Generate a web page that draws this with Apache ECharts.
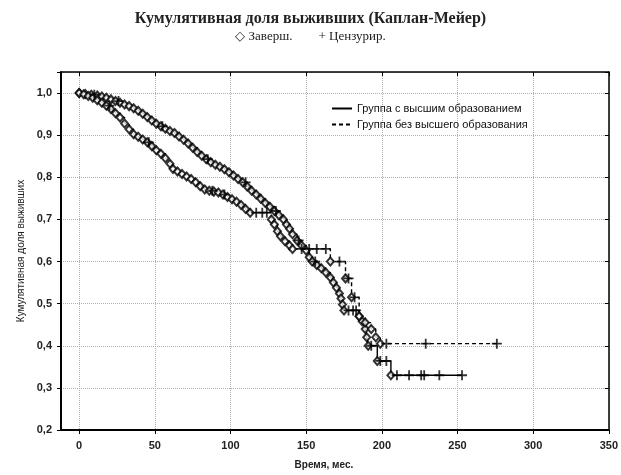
<!DOCTYPE html>
<html>
<head>
<meta charset="utf-8">
<script src="https://cdn.jsdelivr.net/npm/echarts@6/dist/echarts.min.js"></script>
<style>html,body{margin:0;padding:0;background:#fff}#c{width:621px;height:475px}</style>
</head>
<body>
<div id="c"></div>
<script>
// Group with higher education (solid line): event times and survival
const eventsA_t = [0,4,8,12,15,18,21,24,27,30,33,36,39,42,45,48,51,54,57,60,63,66,69,72,75,78,81,84,87,90,93,96,99,102,105,108,111,114,117,120,123,126,129,132,135,137,139,141,144,147,150,152,154,157,160,163,166,168,170,172,173,174,175,185,187,189,190,191,197,206];
const eventsA_s = [1.0,0.998,0.996,0.994,0.992,0.989,0.985,0.981,0.977,0.973,0.969,0.964,0.958,0.951,0.943,0.935,0.927,0.921,0.915,0.910,0.905,0.897,0.889,0.880,0.870,0.860,0.851,0.843,0.836,0.830,0.825,0.819,0.812,0.804,0.796,0.788,0.778,0.768,0.759,0.749,0.739,0.730,0.720,0.710,0.700,0.688,0.678,0.665,0.650,0.638,0.626,0.610,0.600,0.592,0.584,0.574,0.562,0.550,0.538,0.524,0.512,0.498,0.484,0.470,0.458,0.440,0.420,0.400,0.364,0.330];
const censoredA_t = [10,26,55,85,110,130,145,156,178,181,183,193,199,203,210,218,226,228,238,253];

// Group without higher education (dashed line)
const eventsB_t = [0,3,6,9,12,15,18,21,24,27,30,33,36,39,42,45,48,51,54,57,60,62,65,68,71,74,77,80,83,86,89,92,95,98,101,104,107,110,113,127,129,131,133,136,139,141,166,176,180,185,189,193,196,199];
const eventsB_s = [1.0,0.997,0.993,0.989,0.983,0.977,0.970,0.962,0.952,0.942,0.928,0.914,0.902,0.896,0.890,0.883,0.874,0.864,0.856,0.845,0.832,0.820,0.814,0.808,0.802,0.796,0.788,0.779,0.771,0.768,0.766,0.764,0.759,0.753,0.748,0.742,0.734,0.725,0.716,0.700,0.688,0.672,0.660,0.648,0.638,0.630,0.600,0.560,0.515,0.470,0.455,0.440,0.420,0.405];
const censoredB_t = [20,46,88,96,117,121,124,147,152,157,163,172,178,182,203,229,276];

const xTicks = [0,50,100,150,200,250,300,350];
const legendNames = ['Группа с высшим образованием','Группа без высшего образования'];
const titleText = 'Кумулятивная доля выживших (Каплан-Мейер)';
const subtitleText = '\u25C7 Заверш.        + Цензурир.';
const yAxisName = 'Кумулятивная доля выживших';
const xAxisName = 'Время, мес.';

function kmAt(ts, ss, t) {
  let v = ss[0];
  for (let i = 0; i < ts.length; i++) { if (ts[i] <= t) v = ss[i]; }
  return v;
}
function lineData(ts, ss, cts) {
  const pts = ts.map((t, i) => [t, ss[i]]);
  const last = Math.max(...cts);
  if (last > ts[ts.length - 1]) pts.push([last, ss[ss.length - 1]]);
  return pts;
}
function censorData(ts, ss, cts) { return cts.map(t => [t, kmAt(ts, ss, t)]); }

const plusPath = 'path://M4.1,0H5.9V4.1H10V5.9H5.9V10H4.1V5.9H0V4.1H4.1Z';
const sans = 'Liberation Sans';

const chart = echarts.init(document.getElementById('c'), null, {renderer: 'canvas'});
chart.setOption({
  animation: false,
  backgroundColor: '#fff',
  title: [
    {text: titleText, left: 'center', top: 6, textStyle: {fontFamily: 'Liberation Serif', fontSize: 16, fontWeight: 'bold', color: '#222'}},
    {text: subtitleText, left: 'center', top: 25, textStyle: {fontFamily: 'Liberation Serif', fontSize: 13, fontWeight: 'normal', color: '#222'}}
  ],
  legend: {
    data: legendNames, orient: 'vertical', left: 326, top: 98, itemGap: 5, itemWidth: 20, itemHeight: 8,
    itemStyle: {opacity: 0},
    textStyle: {fontFamily: sans, fontSize: 11, color: '#111'}
  },
  grid: {left: 61, right: 10, top: 72, bottom: 43},
  xAxis: [{
    type: 'value', min: -12, max: 350, position: 'bottom',
    name: xAxisName, nameLocation: 'middle', nameGap: 30,
    nameTextStyle: {fontFamily: sans, fontSize: 10, fontWeight: 'bold', color: '#222', padding: [0, 22, 0, 0]},
    axisLine: {show: true, onZero: false, lineStyle: {color: '#000', width: 2}},
    axisTick: {show: true, inside: false, length: 4, customValues: xTicks, lineStyle: {color: '#000'}},
    axisLabel: {customValues: xTicks, margin: 10, fontFamily: sans, fontSize: 11, fontWeight: 'bold', color: '#222'},
    splitLine: {show: true, lineStyle: {color: '#b0b0b0', type: 'dotted', width: 1}}
  }, {
    type: 'value', min: -12, max: 350, position: 'top',
    axisLine: {show: true, onZero: false, lineStyle: {color: '#000', width: 1.5}},
    axisTick: {show: true, inside: true, length: 4, customValues: xTicks, lineStyle: {color: '#000'}},
    axisLabel: {show: false}, splitLine: {show: false}
  }],
  yAxis: [{
    type: 'value', min: 0.2, max: 1.05, interval: 0.1, position: 'left',
    name: yAxisName, nameLocation: 'middle', nameGap: 34, nameRotate: 90,
    nameTextStyle: {fontFamily: sans, fontSize: 10, color: '#222'},
    axisLine: {show: true, onZero: false, lineStyle: {color: '#000', width: 2}},
    axisTick: {show: true, inside: false, length: 4, lineStyle: {color: '#000'}},
    axisLabel: {margin: 9, fontFamily: sans, fontSize: 11, fontWeight: 'bold', color: '#222',
      formatter: v => (v > 1.01 ? '' : v.toFixed(1).replace('.', ','))},
    splitLine: {show: true, lineStyle: {color: '#b0b0b0', type: 'dotted', width: 1}}
  }, {
    type: 'value', min: 0.2, max: 1.05, interval: 0.1, position: 'right',
    axisLine: {show: true, onZero: false, lineStyle: {color: '#000', width: 1.5}},
    axisTick: {show: true, inside: true, length: 4, lineStyle: {color: '#000'}},
    axisLabel: {show: false}, splitLine: {show: false}
  }],
  series: [
    {name: legendNames[0], type: 'line', step: 'end', symbol: 'none', data: lineData(eventsA_t, eventsA_s, censoredA_t),
      lineStyle: {color: '#000', width: 1.4, type: 'solid'}, itemStyle: {color: '#000'}},
    {name: legendNames[1], type: 'line', step: 'end', symbol: 'none', data: lineData(eventsB_t, eventsB_s, censoredB_t),
      lineStyle: {color: '#000', width: 1.4, type: [4, 3]}, itemStyle: {color: '#000'}},
    {type: 'scatter', symbol: 'emptyDiamond', symbolSize: [7, 8], data: eventsA_t.map((t, i) => [t, eventsA_s[i]]),
      itemStyle: {color: '#000', borderColor: '#000', borderWidth: 1.3}, z: 3},
    {type: 'scatter', symbol: 'emptyDiamond', symbolSize: [7, 8], data: eventsB_t.map((t, i) => [t, eventsB_s[i]]),
      itemStyle: {color: '#000', borderColor: '#000', borderWidth: 1.3}, z: 3},
    {type: 'scatter', symbol: plusPath, symbolSize: 10, data: censorData(eventsA_t, eventsA_s, censoredA_t),
      itemStyle: {color: '#000'}, z: 4},
    {type: 'scatter', symbol: plusPath, symbolSize: 10, data: censorData(eventsB_t, eventsB_s, censoredB_t),
      itemStyle: {color: '#000'}, z: 4}
  ]
});
</script>
</body>
</html>
